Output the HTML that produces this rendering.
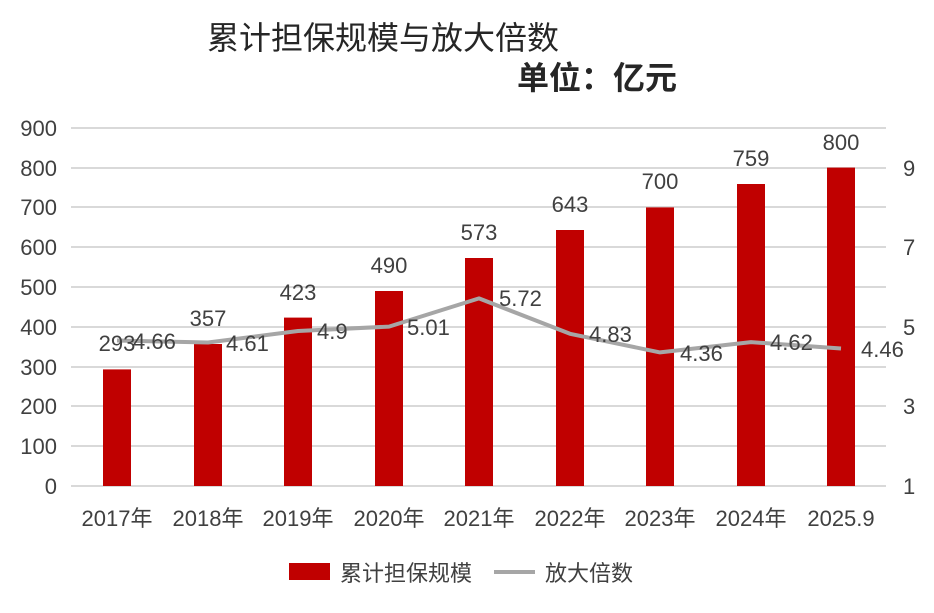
<!DOCTYPE html>
<html><head><meta charset="utf-8"><style>
body{margin:0;background:#fff}
svg text{font-family:"Liberation Sans","Noto Sans CJK SC",sans-serif;fill:#404040}
</style></head><body>
<svg width="934" height="608" viewBox="0 0 934 608" xmlns="http://www.w3.org/2000/svg">
<rect width="934" height="608" fill="#fff"/>
<text x="383" y="49" font-size="32" text-anchor="middle" style="fill:#262626">累计担保规模与放大倍数</text>
<text x="597" y="89" font-size="32" text-anchor="middle" font-weight="bold" style="fill:#262626">单位：亿元</text>
<g stroke="#d9d9d9" stroke-width="2">
<line x1="71" x2="886" y1="128" y2="128"/><line x1="71" x2="886" y1="168" y2="168"/>
<line x1="71" x2="886" y1="207" y2="207"/><line x1="71" x2="886" y1="247" y2="247"/>
<line x1="71" x2="886" y1="287" y2="287"/><line x1="71" x2="886" y1="327" y2="327"/>
<line x1="71" x2="886" y1="367" y2="367"/><line x1="71" x2="886" y1="406" y2="406"/>
<line x1="71" x2="886" y1="446" y2="446"/><line x1="71" x2="886" y1="486" y2="486"/>
</g>
<g font-size="22" text-anchor="end">
<text x="57" y="136">900</text><text x="57" y="176">800</text><text x="57" y="215">700</text>
<text x="57" y="255">600</text><text x="57" y="295">500</text><text x="57" y="335">400</text>
<text x="57" y="375">300</text><text x="57" y="414">200</text><text x="57" y="454">100</text>
<text x="57" y="494">0</text>
</g>
<g font-size="22">
<text x="903" y="176">9</text><text x="903" y="255">7</text><text x="903" y="335">5</text>
<text x="903" y="414">3</text><text x="903" y="494">1</text>
</g>
<g fill="#c00000">
<rect x="103" y="369.4" width="28" height="116.6"/>
<rect x="194" y="344" width="28" height="142"/>
<rect x="284" y="317.6" width="28" height="168.4"/>
<rect x="375" y="291" width="28" height="195"/>
<rect x="465" y="258" width="28" height="228"/>
<rect x="556" y="230" width="28" height="256"/>
<rect x="646" y="207.4" width="28" height="278.6"/>
<rect x="737" y="184" width="28" height="302"/>
<rect x="827" y="167.6" width="28" height="318.4"/>
</g>
<polyline fill="none" stroke="#a6a6a6" stroke-width="4" stroke-linejoin="round" points="117,340.5 208,342.5 298,331 389,326.6 479,298.4 570,333.8 660,352.4 751,342.1 841,348.5"/>
<g font-size="22" text-anchor="middle">
<text x="117" y="351">293</text><text x="208" y="326">357</text><text x="298" y="300">423</text>
<text x="389" y="273">490</text><text x="479" y="240">573</text><text x="570" y="212">643</text>
<text x="660" y="189">700</text><text x="751" y="166">759</text><text x="841" y="150">800</text>
</g>
<g font-size="22">
<text x="133" y="349">4.66</text><text x="226" y="351">4.61</text><text x="317" y="339">4.9</text>
<text x="407" y="335">5.01</text><text x="499" y="306">5.72</text><text x="589" y="342">4.83</text>
<text x="680" y="361">4.36</text><text x="770" y="350">4.62</text><text x="861" y="357">4.46</text>
</g>
<g font-size="22" text-anchor="middle">
<text x="117" y="526">2017年</text><text x="208" y="526">2018年</text><text x="298" y="526">2019年</text>
<text x="389" y="526">2020年</text><text x="479" y="526">2021年</text><text x="570" y="526">2022年</text>
<text x="660" y="526">2023年</text><text x="751" y="526">2024年</text><text x="841" y="526">2025.9</text>
</g>
<rect x="289" y="563" width="41" height="17" fill="#c00000"/>
<text x="340" y="581" font-size="22">累计担保规模</text>
<line x1="494" x2="535" y1="572" y2="572" stroke="#a6a6a6" stroke-width="4"/>
<text x="545" y="581" font-size="22">放大倍数</text>
</svg>
</body></html>
